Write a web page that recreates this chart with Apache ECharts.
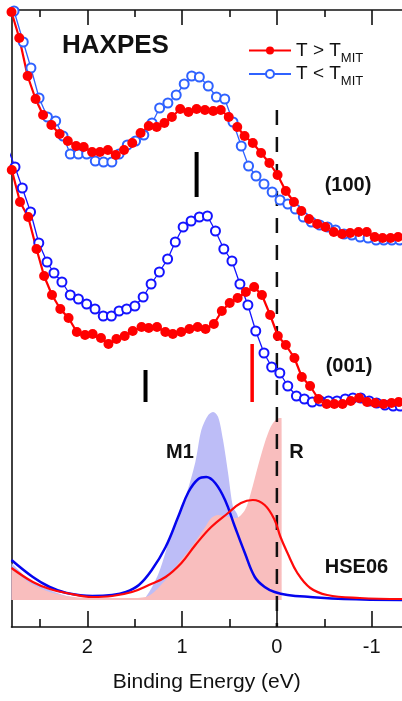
<!DOCTYPE html>
<html><head><meta charset="utf-8">
<script src="https://cdn.jsdelivr.net/npm/echarts@6/dist/echarts.min.js"></script>
<style>html,body{margin:0;padding:0;background:#fff}#c{width:402px;height:701px}</style>
</head><body><div id="c"></div>
<script>
const FONT = '"Liberation Sans", Arial, Helvetica, sans-serif';

// x tick values (eV)
const majorTicks = [2, 1, 0, -1];
const minorTicks = [2.5, 1.5, 0.5, -0.5];

// HAXPES (100), T > T_MIT
const r100X = [2.800,2.718,2.630,2.546,2.467,2.379,2.292,2.206,2.118,2.038,1.950,1.867,1.783,1.700,1.613,1.526,1.438,1.352,1.268,1.187,1.108,1.020,0.933,0.847,0.759,0.672,0.592,0.508,0.418,0.341,0.254,0.167,0.079,-0.007,-0.094,-0.180,-0.258,-0.339,-0.425,-0.512,-0.600,-0.687,-0.773,-0.861,-0.948,-1.032,-1.115,-1.199,-1.279];
const r100Y = [588,562,524,501,485,475,466,459,454,453,448,448,450,445,450,457,467,474,473,477,483,491,488,491,490,489,490,483,473,464,457,447,437,425,409,398,389,381,376,373,368,366,367,368,368,363,362,362,363];
// HAXPES (100), T < T_MIT
const b100X = [2.773,2.676,2.595,2.509,2.421,2.334,2.256,2.180,2.094,2.007,1.916,1.829,1.741,1.665,1.578,1.491,1.404,1.317,1.237,1.150,1.062,0.978,0.899,0.818,0.724,0.638,0.550,0.463,0.376,0.299,0.220,0.136,0.050,-0.033,-0.115,-0.195,-0.279,-0.363,-0.452,-0.535,-0.619,-0.708,-0.791,-0.878,-0.962,-1.047,-1.128,-1.213,-1.295];
const b100Y = [589,558,532,502,483,479,464,446,446,446,439,438,438,446,455,459,465,477,492,497,505,516,524,523,514,503,501,478,454,434,424,416,408,400,396,391,383,378,375,373,370,366,365,363,362,360,360,360,360];
// HAXPES (001), T > T_MIT
const r001X = [2.797,2.710,2.624,2.536,2.456,2.373,2.285,2.198,2.111,2.024,1.944,1.856,1.777,1.693,1.606,1.521,1.428,1.352,1.265,1.177,1.098,1.010,0.923,0.836,0.753,0.665,0.581,0.498,0.414,0.327,0.240,0.158,0.071,-0.010,-0.094,-0.185,-0.263,-0.350,-0.438,-0.525,-0.606,-0.692,-0.779,-0.867,-0.951,-1.037,-1.124,-1.209,-1.285];
const r001Y = [430,398,383,351,324,305,291,282,268,265,266,262,256,261,264,269,273,272,273,268,266,268,271,273,271,276,289,297,302,308,313,305,285,264,255,242,223,214,201,196,196,196,199,202,198,197,196,197,198];
// HAXPES (001), T < T_MIT
const b001X = [2.848,2.763,2.686,2.599,2.512,2.425,2.352,2.268,2.180,2.094,2.007,1.919,1.832,1.746,1.665,1.585,1.498,1.411,1.327,1.240,1.153,1.072,0.989,0.905,0.818,0.733,0.648,0.560,0.474,0.390,0.306,0.223,0.136,0.055,-0.031,-0.115,-0.206,-0.290,-0.373,-0.457,-0.544,-0.634,-0.721,-0.802,-0.885,-0.974,-1.053,-1.140,-1.227,-1.300];
const b001Y = [454,433,412,388,357,338,327,318,305,301,296,291,284,284,289,291,294,303,316,328,341,358,373,379,383,384,369,351,339,316,295,269,247,233,227,214,204,201,198,199,199,199,201,202,202,199,197,195,194,194];

// HSE06 DOS: raw (filled) and broadened (lines)
const m1FillX = [2.80,2.606,2.397,2.219,1.978,1.456,1.383,1.247,1.111,0.965,0.860,0.797,0.724,0.672,0.620,0.568,0.515,0.463,0.420,0.380,0.300,0.200,0.100,0.000,-0.050];
const m1FillY = [37,20,10,4,1,1,3,27,67,103,138,170,185,188,183,160,127,93,86,72,45,20,6,1,0];
const rFillX = [2.80,2.606,2.397,2.219,1.978,1.560,1.383,1.174,1.038,0.902,0.756,0.693,0.620,0.515,0.432,0.337,0.275,0.202,0.129,0.066,0.014,-0.028,-0.049,-0.052];
const rFillY = [32,17,8,4,2,2,3,20,37,53,73,82,85,83,82,90,107,133,157,173,180,182,182,0];
const m1LineX = [2.80,2.575,2.397,2.219,1.947,1.738,1.592,1.456,1.320,1.174,1.038,0.933,0.829,0.745,0.651,0.547,0.442,0.338,0.233,0.129,0.024,-0.112,-0.352,-0.708,-1.32];
const m1LineY = [40,23,13,7,4,5,8,15,30,53,84,108,121,123,117,100,73,47,23,13,8,5,3,1,0];
const rLineX = [2.80,2.575,2.397,2.219,1.947,1.738,1.529,1.351,1.174,1.007,0.860,0.693,0.515,0.379,0.254,0.129,0.024,-0.038,-0.112,-0.216,-0.352,-0.530,-0.875,-1.32];
const rLineY = [32,18,11,7,3,4,8,15,23,37,55,73,87,97,100,95,80,63,47,27,12,5,2,1];

// peak marker bars and Fermi level
const bar100X = [0.847, 0.847];
const bar100Y = [448, 403];
const bar001KX = [1.386, 1.386];
const bar001KY = [230, 198];
const bar001RX = [0.261, 0.261];
const bar001RY = [256, 198];
const fermiX = [0, 0];
const fermiY = [490, -27];

const nameHi = 'T > T_MIT';
const nameLo = 'T < T_MIT';

function zip(xs, ys) { return xs.map((x, i) => [x, ys[i]]); }

const XMIN = -1.32, XMAX = 2.8;
function xAx(pos, ticks, len, showLine, showLabel) {
  return {
    type: 'value', position: pos, inverse: true, min: XMIN, max: XMAX,
    axisLine: { show: showLine, onZero: false, lineStyle: { color: '#111', width: 1.6 } },
    axisTick: { show: true, inside: true, length: len, customValues: ticks, lineStyle: { color: '#111', width: 1.6 } },
    axisLabel: showLabel ? { show: true, customValues: ticks, margin: 10, fontSize: 20, color: '#111', fontFamily: FONT } : { show: false },
    splitLine: { show: false },
    name: showLabel ? 'Binding Energy (eV)' : '',
    nameLocation: 'middle', nameGap: 45,
    nameTextStyle: { fontSize: 21, color: '#111', fontFamily: FONT }
  };
}

function seg(xs, ys, color, width, type) {
  return { type: 'line', data: zip(xs, ys), symbol: 'none', silent: true,
    lineStyle: { color: color, width: width, type: type || 'solid', cap: 'butt' } };
}

function pts(name, xs, ys, filled, color, size, lw) {
  return { type: 'line', name: name, data: zip(xs, ys), symbol: filled ? 'circle' : 'emptyCircle',
    symbolSize: size, showAllSymbol: true, silent: true,
    itemStyle: filled ? { color: color } : { color: color, borderWidth: 1.3 },
    lineStyle: { color: color, width: lw } };
}

const chart = echarts.init(document.getElementById('c'), null, { renderer: 'canvas' });
chart.setOption({
  animation: false,
  backgroundColor: '#fff',
  grid: { left: 11.5, right: -3.6, top: 10, bottom: 74, containLabel: false },
  xAxis: [
    xAx('bottom', majorTicks, 16, true, true),
    xAx('bottom', minorTicks, 8, false, false),
    xAx('top', majorTicks, 15, true, false),
    xAx('top', minorTicks, 7, false, false)
  ],
  yAxis: {
    type: 'value', min: -27, max: 590, position: 'left',
    axisLine: { show: true, onZero: false, lineStyle: { color: '#111', width: 1.6 } },
    axisTick: { show: false }, axisLabel: { show: false }, splitLine: { show: false }
  },
  legend: {
    data: [nameHi, nameLo], orient: 'vertical', left: 248, top: 41,
    itemWidth: 42, itemHeight: 10, itemGap: 0, padding: 0, selectedMode: false,
    formatter: n => n === nameHi ? '{a|T > T}{b|MIT}' : '{a|T < T}{b|MIT}',
    textStyle: {
      fontFamily: FONT,
      rich: {
        a: { fontSize: 19, lineHeight: 28, color: '#111', fontFamily: FONT },
        b: { fontSize: 13, lineHeight: 14, verticalAlign: 'bottom', color: '#111', fontFamily: FONT }
      }
    }
  },
  series: [
    { type: 'line', name: 'M1 DOS', data: zip(m1FillX, m1FillY), smooth: 0.3, symbol: 'none', silent: true,
      lineStyle: { width: 0 }, areaStyle: { color: '#bdbdf7', opacity: 1 } },
    { type: 'line', name: 'R DOS', data: zip(rFillX, rFillY), smooth: 0.3, symbol: 'none', silent: true,
      lineStyle: { width: 0 }, areaStyle: { color: '#f9bebe', opacity: 1 } },
    seg(fermiX, fermiY, '#111', 2.5, [15, 12]),
    { type: 'line', name: 'M1 HSE06', data: zip(m1LineX, m1LineY), smooth: 0.4, symbol: 'none', silent: true,
      lineStyle: { color: '#0505ee', width: 2.5 } },
    { type: 'line', name: 'R HSE06', data: zip(rLineX, rLineY), smooth: 0.4, symbol: 'none', silent: true,
      lineStyle: { color: '#ff0a0a', width: 2.2 } },
    seg(bar100X, bar100Y, '#000', 4),
    seg(bar001KX, bar001KY, '#000', 4),
    seg(bar001RX, bar001RY, '#ff0000', 3.5),
    pts(nameLo, b100X, b100Y, false, '#2f62ff', 9, 1.3),
    pts(nameHi, r100X, r100Y, true, '#ff0000', 10, 2.2),
    pts(nameLo, b001X, b001Y, false, '#1414ff', 9, 1.3),
    pts(nameHi, r001X, r001Y, true, '#ff0000', 10, 2.2)
  ],
  graphic: [
    { type: 'text', x: 62, y: 45.5, style: { text: 'HAXPES', fontSize: 26, fontWeight: 'bold', fontFamily: FONT, fill: '#111', align: 'left', verticalAlign: 'middle' } },
    { type: 'text', x: 348, y: 185.5, style: { text: '(100)', fontSize: 20, fontWeight: 'bold', fontFamily: FONT, fill: '#111', align: 'center', verticalAlign: 'middle' } },
    { type: 'text', x: 349, y: 366, style: { text: '(001)', fontSize: 20, fontWeight: 'bold', fontFamily: FONT, fill: '#111', align: 'center', verticalAlign: 'middle' } },
    { type: 'text', x: 180, y: 452.5, style: { text: 'M1', fontSize: 20, fontWeight: 'bold', fontFamily: FONT, fill: '#111', align: 'center', verticalAlign: 'middle' } },
    { type: 'text', x: 296.5, y: 452.5, style: { text: 'R', fontSize: 20, fontWeight: 'bold', fontFamily: FONT, fill: '#111', align: 'center', verticalAlign: 'middle' } },
    { type: 'text', x: 356.5, y: 567.5, style: { text: 'HSE06', fontSize: 20, fontWeight: 'bold', fontFamily: FONT, fill: '#111', align: 'center', verticalAlign: 'middle' } }
  ]
});
</script>
</body></html>
